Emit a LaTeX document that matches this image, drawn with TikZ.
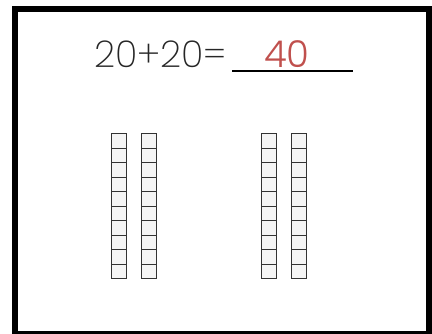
\documentclass[tikz,border=0pt]{standalone}
\usepackage{fontspec}
\setmainfont{Poppins}[UprightFont=* ExtraLight]
\newfontfamily\answerfont{Poppins}[UprightFont=* Light]
\usetikzlibrary{positioning,calc}
\definecolor{answerred}{HTML}{C0504D}
\definecolor{cubeline}{HTML}{333333}

\begin{document}
\begin{tikzpicture}[x=1pt,y=-1pt]
\tikzstyle{eq}=[inner sep=0pt,font=\fontsize{37}{37}\selectfont,text=black!85]
\tikzstyle{cube}=[draw=cubeline,fill=black!4,line width=1pt]
\useasboundingbox (0,0) rectangle (432,334);
\clip (0,0) rectangle (432,334);
\draw[line width=6pt] (15,9.5) rectangle (429,334);
% number sentence
\node[eq,anchor=base west] (sum) at (94,68) {20+20=};
\coordinate (ulA) at (232,71);
\coordinate (ulB) at (353,71);
\draw[line width=1.2pt] (ulA) -- (ulB);
\node[eq,anchor=base,text=answerred,font=\fontsize{37}{37}\answerfont] (ans) at (287,68) {40};
% tens rods
\foreach \x in {111,141,261,291} {
  \foreach \i in {0,...,9}
    \draw[cube] (\x,134+\i*14.5) rectangle ++(15.5,14.5);
}
\end{tikzpicture}
\end{document}
